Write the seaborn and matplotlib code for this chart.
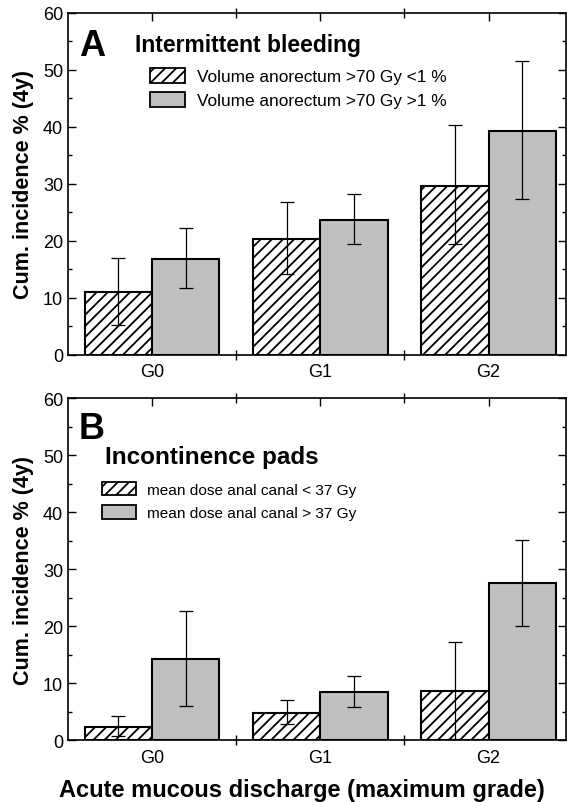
import matplotlib
matplotlib.use("Agg")
import matplotlib.pyplot as plt
import matplotlib.patches as mpatches
from matplotlib.ticker import MultipleLocator, FixedLocator
import seaborn as sns
import pandas as pd
import numpy as np

# ---- data ----
grades = ["G0", "G1", "G2"]

a_groups = ["Volume anorectum >70 Gy <1 %", "Volume anorectum >70 Gy >1 %"]
a_low_vals = [11.1, 20.4, 29.6]
a_low_lo = [5.3, 14.2, 19.4]
a_low_hi = [17.1, 26.9, 40.3]
a_high_vals = [16.8, 23.7, 39.3]
a_high_lo = [11.7, 19.4, 27.3]
a_high_hi = [22.2, 28.2, 51.5]

b_groups = ["mean dose anal canal < 37 Gy", "mean dose anal canal > 37 Gy"]
b_low_vals = [2.4, 4.85, 8.6]
b_low_lo = [0.8, 2.9, 0.2]
b_low_hi = [4.2, 7.1, 17.3]
b_high_vals = [14.3, 8.5, 27.5]
b_high_lo = [6.1, 5.9, 20.1]
b_high_hi = [22.65, 11.3, 35.1]

y_ticks = [0, 10, 20, 30, 40, 50, 60]

sns.set_theme(style="white")
plt.rcParams["font.family"] = ["Liberation Sans", "DejaVu Sans"]
plt.rcParams["hatch.linewidth"] = 1.3
plt.rcParams["hatch.color"] = "black"
for k in ["text.color", "axes.labelcolor", "xtick.color", "ytick.color", "axes.edgecolor"]:
    plt.rcParams[k] = "black"

GREY = "#c0c0c0"

fig = plt.figure(figsize=(5.67, 8.03), dpi=100)
axA = fig.add_axes([0.120, 0.5567, 0.878, 0.4259])
axB = fig.add_axes([0.120, 0.0768, 0.878, 0.4263])


def panel(ax, groups, lv, llo, lhi, hv, hlo, hhi, letter, title, letter_xy, title_xy,
          title_fs, leg_anchor, leg_fs, leg_hl, leg_spacing, xlabel):
    df = pd.DataFrame({
        "grade": grades * 2,
        "val": lv + hv,
        "group": [groups[0]] * 3 + [groups[1]] * 3,
    })
    sns.barplot(data=df, x="grade", y="val", hue="group", order=grades,
                hue_order=groups, palette=["white", GREY], width=0.8,
                edgecolor="black", linewidth=1.5, errorbar=None, legend=False,
                ax=ax, saturation=1)
    c_low, c_high = ax.containers[0], ax.containers[1]
    for p in c_low:
        p.set_hatch("///")
    for cont, v, lo, hi in [(c_low, lv, llo, lhi), (c_high, hv, hlo, hhi)]:
        xs = [p.get_x() + p.get_width() / 2 for p in cont]
        v = np.array(v); lo = np.array(lo); hi = np.array(hi)
        ax.errorbar(xs, v, yerr=[v - lo, hi - v], fmt="none", ecolor="black",
                    elinewidth=0.9, capsize=5, capthick=0.9, zorder=5)
    ax.set_ylim(0, 60)
    ax.set_xlim(-0.5, 2.46)
    ax.set_yticks(y_ticks)
    ax.yaxis.set_minor_locator(MultipleLocator(5))
    ax.set_ylabel("Cum. incidence % (4y)", fontsize=15.5, fontweight="bold")
    ax.set_xlabel(xlabel, fontsize=17, fontweight="bold")
    ax.set_xticks([0, 1, 2])
    ax.set_xticklabels(grades)
    ax.xaxis.set_minor_locator(FixedLocator([0.5, 1.5]))
    ax.tick_params(axis="y", which="both", direction="in", left=True, right=True,
                   labelsize=13, width=1)
    ax.tick_params(axis="y", which="major", length=6)
    ax.tick_params(axis="y", which="minor", length=3)
    ax.tick_params(axis="x", which="major", bottom=False, top=True, direction="in",
                   length=6, labelsize=13, width=1, pad=6)
    ax.tick_params(axis="x", which="minor", bottom=True, top=True, direction="inout",
                   length=7, width=1)
    for s in ax.spines.values():
        s.set_visible(True)
        s.set_color("black")
        s.set_linewidth(1.2)
    ax.text(letter_xy[0], letter_xy[1], letter, transform=ax.transAxes, fontsize=26,
            fontweight="bold", va="center", ha="left")
    ax.text(title_xy[0], title_xy[1], title, transform=ax.transAxes, fontsize=title_fs,
            fontweight="bold", va="center", ha="left")
    handles = [mpatches.Patch(facecolor="white", edgecolor="black", hatch="///", linewidth=1.3),
               mpatches.Patch(facecolor=GREY, edgecolor="black", linewidth=1.3)]
    ax.legend(handles, groups, loc="upper left", bbox_to_anchor=leg_anchor,
              frameon=False, fontsize=leg_fs, handlelength=leg_hl, handleheight=0.95,
              handletextpad=0.7, labelspacing=leg_spacing, borderaxespad=0, borderpad=0)
    ax.yaxis.set_label_coords(-0.068, 0.5)
    ax.xaxis.set_label_coords(0.47, -0.11)


panel(axA, a_groups, a_low_vals, a_low_lo, a_low_hi, a_high_vals, a_high_lo, a_high_hi,
      "A", "Intermittent bleeding", (0.022, 0.905), (0.135, 0.908), 16.5,
      (0.165, 0.84), 12.4, 2.0, 0.45, "")
panel(axB, b_groups, b_low_vals, b_low_lo, b_low_hi, b_high_vals, b_high_lo, b_high_hi,
      "B", "Incontinence pads", (0.022, 0.91), (0.075, 0.83), 17.5,
      (0.069, 0.755), 11.1, 2.2, 0.55, "Acute mucous discharge (maximum grade)")

fig.savefig("out.png", dpi=100)
